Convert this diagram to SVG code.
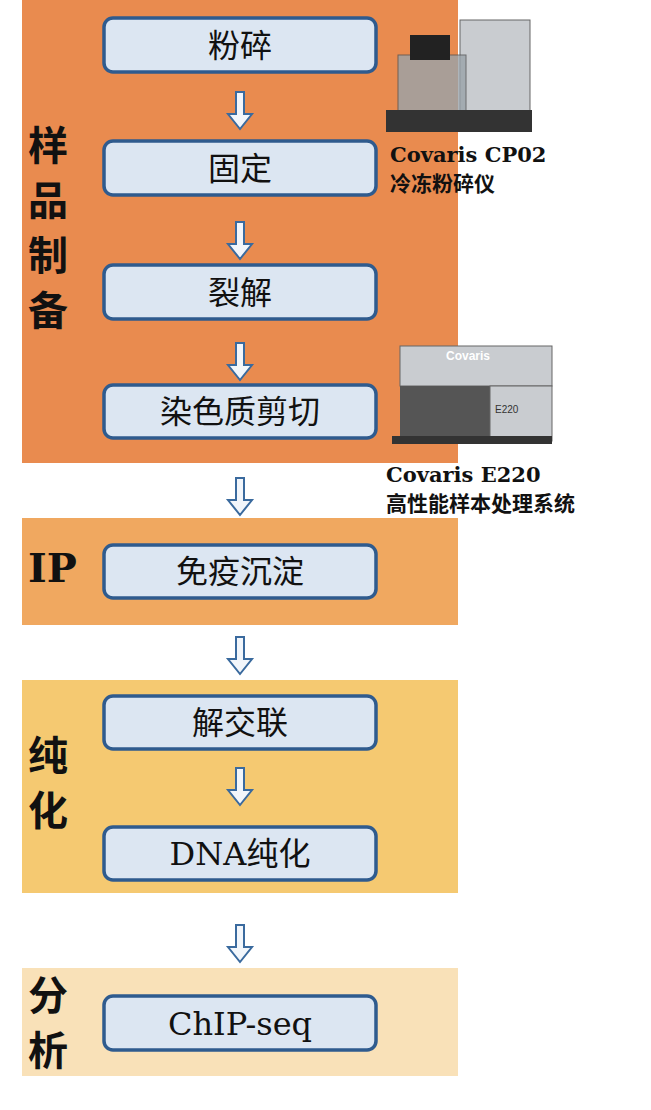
<svg xmlns="http://www.w3.org/2000/svg" width="651" height="1110" viewBox="0 0 651 1110">
<style>
.box{fill:#DCE6F2;stroke:#2F5B8E;stroke-width:3.5}
.bt{font-family:"DejaVu Serif","Noto Sans CJK SC",serif;font-size:32px;text-anchor:middle;fill:#111}
.side{font-family:"DejaVu Serif","Noto Sans CJK SC",serif;font-size:40px;font-weight:bold;fill:#111}
.cap{font-family:"DejaVu Serif","Noto Sans CJK SC",serif;font-size:21px;font-weight:bold;fill:#111}
.arr{fill:#F2F6FB;stroke:#3A6A9E;stroke-width:2}
.mach{fill:#C9CCD0;stroke:#666;stroke-width:1}
</style>
<defs>
<path id="a" d="M-4,0 H4 V22 H12 L0,37 L-12,22 H-4 Z"/>
</defs>
<g id="sections">
<rect x="22" y="0" width="436" height="463" fill="#E98B4F"/>
<rect x="22" y="518" width="436" height="107" fill="#F0A860"/>
<rect x="22" y="680" width="436" height="213" fill="#F5C971"/>
<rect x="22" y="968" width="436" height="108" fill="#F9E1B8"/>
<text class="side" x="28" y="160">样</text>
<text class="side" x="28" y="215">品</text>
<text class="side" x="28" y="270">制</text>
<text class="side" x="28" y="325">备</text>
<text class="side" x="28" y="582" font-weight="normal">IP</text>
<text class="side" x="28" y="770">纯</text>
<text class="side" x="28" y="825">化</text>
<text class="side" x="28" y="1010">分</text>
<text class="side" x="28" y="1065">析</text>
</g>
<g id="n1"><rect class="box" x="104" y="18" width="272" height="54" rx="9"/><text class="bt" x="240" y="57">粉碎</text></g>
<g id="n2"><rect class="box" x="104" y="141" width="272" height="54" rx="9"/><text class="bt" x="240" y="180">固定</text></g>
<g id="n3"><rect class="box" x="104" y="265" width="272" height="54" rx="9"/><text class="bt" x="240" y="304">裂解</text></g>
<g id="n4"><rect class="box" x="104" y="385" width="272" height="53" rx="9"/><text class="bt" x="240" y="423">染色质剪切</text></g>
<g id="n5"><rect class="box" x="104" y="545" width="272" height="53" rx="9"/><text class="bt" x="240" y="583">免疫沉淀</text></g>
<g id="n6"><rect class="box" x="104" y="696" width="272" height="53" rx="9"/><text class="bt" x="240" y="734">解交联</text></g>
<g id="n7"><rect class="box" x="104" y="827" width="272" height="53" rx="9"/><text class="bt" x="240" y="865">DNA纯化</text></g>
<g id="n8"><rect class="box" x="104" y="996" width="272" height="54" rx="9"/><text class="bt" x="240" y="1035">ChIP-seq</text></g>
<g id="connectors">
<use href="#a" class="arr" x="240" y="92"/>
<use href="#a" class="arr" x="240" y="222"/>
<use href="#a" class="arr" x="240" y="343"/>
<use href="#a" class="arr" x="240" y="478"/>
<use href="#a" class="arr" x="240" y="637"/>
<use href="#a" class="arr" x="240" y="768"/>
<use href="#a" class="arr" x="240" y="925"/>
</g>
<g id="cp02">
<rect class="mach" x="460" y="20" width="70" height="105" fill="#D8D8D0"/>
<rect x="398" y="55" width="68" height="70" fill="#9AA3AA" stroke="#555" opacity="0.8"/>
<rect x="386" y="110" width="146" height="22" fill="#333"/>
<rect x="410" y="35" width="40" height="25" fill="#222"/>
<text class="cap" x="390" y="162">Covaris CP02</text>
<text class="cap" x="390" y="191">冷冻粉碎仪</text>
</g>
<g id="e220">
<rect class="mach" x="400" y="346" width="152" height="40" fill="#A9B6C2"/>
<text x="446" y="360" font-family="Liberation Sans,sans-serif" font-size="12" font-weight="bold" fill="#fff">Covaris</text>
<rect x="400" y="386" width="90" height="50" fill="#555"/>
<rect class="mach" x="490" y="386" width="62" height="55" fill="#C8CDD2"/>
<text x="495" y="413" font-family="Liberation Sans,sans-serif" font-size="10" fill="#333">E220</text>
<rect x="392" y="436" width="160" height="8" fill="#333"/>
<text class="cap" x="386" y="482">Covaris E220</text>
<text class="cap" x="386" y="511">高性能样本处理系统</text>
</g>
</svg>
